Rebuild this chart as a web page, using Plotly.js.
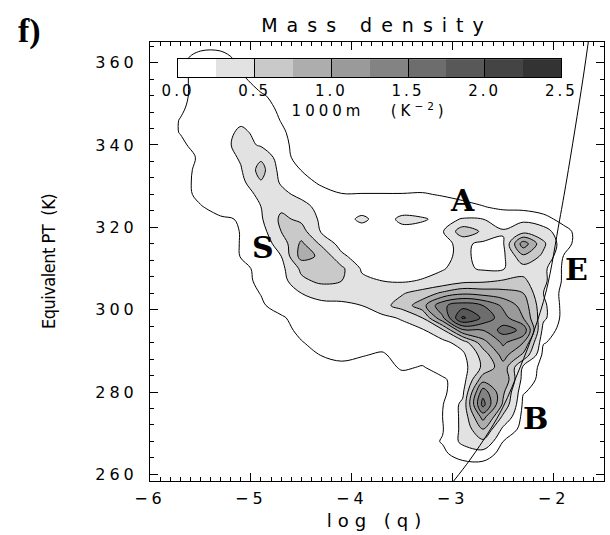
<!DOCTYPE html>
<html><head><meta charset="utf-8">
<script src="https://cdn.plot.ly/plotly-3.0.1.min.js"></script>
<style>
body{margin:0;background:#fff}
#chart{width:610px;height:535px}
.xtick text,.ytick text{letter-spacing:4px}
.x2tick text{letter-spacing:3px}
.gtitle{letter-spacing:9px}
.xtitle{letter-spacing:6px}
.x2title{letter-spacing:4px}
.ytitle{letter-spacing:-0.5px}
</style>
</head><body><div id="chart"></div>
<script>
// grid of log(q) (columns) and equivalent potential temperature (rows, top to bottom)
const logQ = [-5.9,-5.7,-5.5,-5.3,-5.1,-4.9,-4.7,-4.5,-4.3,-4.1,-3.9,-3.7,-3.5,-3.3,-3.1,-2.9,-2.7,-2.5,-2.3,-2.1,-1.9,-1.7,-1.5];
const thetaE = [364,361,358,355,352,349,346,343,340,337,334,331,328,325,322,319,316,313,310,307,304,301,298,295,292,289,286,283,280,277,274,271,268,265,262,259];
// mass density (1000 m K^-2), rows follow thetaE
const massDensity = [
[0,0,0,0,0,0,0,0,0,0,0,0,0,0,0,0,0,0,0,0,0,0,0],
[0,0,.15,.15,0,0,0,0,0,0,0,0,0,0,0,0,0,0,0,0,0,0,0],
[0,0,.15,.15,.05,0,0,0,0,0,0,0,0,0,0,0,0,0,0,0,0,0,0],
[0,.02,.12,.12,.12,0,0,0,0,0,0,0,0,0,0,0,0,0,0,0,0,0,0],
[0,.02,.12,.12,.12,.08,0,0,0,0,0,0,0,0,0,0,0,0,0,0,0,0,0],
[0,.04,.12,.12,.14,.12,.03,0,0,0,0,0,0,0,0,0,0,0,0,0,0,0,0],
[0,.065,.12,.13,.2,.13,.055,0,0,0,0,0,0,0,0,0,0,0,0,0,0,0,0],
[0,.065,.12,.14,.3,.18,.08,0,0,0,0,0,0,0,0,0,0,0,0,0,0,0,0],
[0,.03,.12,.14,.35,.22,.1,0,0,0,0,0,0,0,0,0,0,0,0,0,0,0,0],
[0,0,.08,.12,.28,.45,.12,0,0,0,0,0,0,0,0,0,0,0,0,0,0,0,0],
[0,0,.1,.12,.23,.6,.15,.055,0,0,0,0,0,0,0,0,0,0,0,0,0,0,0],
[0,0,.11,.12,.18,.48,.22,.12,.03,0,0,0,0,0,0,0,0,0,0,0,0,0,0],
[0,0,.1,.12,.15,.3,.32,.18,.12,.065,.065,.065,.065,.07,.05,.02,0,0,0,0,0,0,0],
[0,0,.05,.12,.13,.25,.45,.35,.15,.12,.13,.12,.13,.13,.12,.1,.065,.03,0,0,0,0,0],
[0,0,0,.04,.07,.22,.55,.45,.2,.15,.3,.15,.3,.27,.2,.26,.25,.15,.2,.1,.02,0,0],
[0,0,0,0,.065,.15,.5,.6,.22,.12,.14,.12,.18,.18,.23,.65,.46,.27,.4,.35,.1,0,0],
[0,0,0,0,.065,.12,.35,.8,.45,.15,.12,.12,.12,.12,.2,.3,.2,.22,1.15,.55,.1,0,0],
[0,0,0,0,.065,.08,.25,.85,.7,.3,.12,.12,.12,.12,.2,.3,.18,.2,.7,.45,.055,0,0],
[0,0,0,0,.02,.1,.18,.55,.75,.55,.22,.12,.12,.15,.24,.3,.22,.23,.4,.3,.03,0,0],
[0,0,0,0,0,.1,.15,.45,.55,.5,.3,.25,.22,.27,.3,.42,.45,.52,.55,.3,.03,0,0],
[0,0,0,0,0,.065,.12,.25,.35,.35,.32,.4,.48,.6,.8,.95,.9,.85,.75,.25,0,0,0],
[0,0,0,0,0,.04,.12,.15,.18,.2,.25,.42,.6,.9,1.45,1.65,1.5,1.2,.9,.3,0,0,0],
[0,0,0,0,0,0,.04,.12,.12,.12,.14,.18,.28,.5,1.2,2.05,1.7,1.35,1.0,.3,0,0,0],
[0,0,0,0,0,0,0,.1,.12,.12,.12,.12,.14,.22,.45,1.2,1.25,1.6,1.45,.15,0,0,0],
[0,0,0,0,0,0,0,.05,.12,.12,.12,.12,.12,.12,.18,.35,.9,1.3,1.0,.07,0,0,0],
[0,0,0,0,0,0,0,0,.065,.12,.07,.04,.12,.12,.12,.2,.6,1.1,.7,0,0,0,0],
[0,0,0,0,0,0,0,0,0,0,0,0,.08,.05,.12,.15,.55,.9,.2,0,0,0,0],
[0,0,0,0,0,0,0,0,0,0,0,0,0,0,.04,.13,.9,1.0,.15,0,0,0,0],
[0,0,0,0,0,0,0,0,0,0,0,0,0,0,.02,.2,1.4,.8,.07,0,0,0,0],
[0,0,0,0,0,0,0,0,0,0,0,0,0,0,.05,.3,1.6,.7,.02,0,0,0,0],
[0,0,0,0,0,0,0,0,0,0,0,0,0,0,.06,.3,1.1,.45,0,0,0,0,0],
[0,0,0,0,0,0,0,0,0,0,0,0,0,0,.05,.3,.75,.2,0,0,0,0,0],
[0,0,0,0,0,0,0,0,0,0,0,0,0,0,.07,.3,.45,.06,0,0,0,0,0],
[0,0,0,0,0,0,0,0,0,0,0,0,0,0,.03,.13,.15,0,0,0,0,0,0],
[0,0,0,0,0,0,0,0,0,0,0,0,0,0,0,0,0,0,0,0,0,0,0],
[0,0,0,0,0,0,0,0,0,0,0,0,0,0,0,0,0,0,0,0,0,0,0]
];
// contour levels and grey shades of the bands
const levels = [0.25,0.5,0.75,1.0,1.25,1.5,1.75,2.0,2.25,2.5];
const bandGreys = ['#ffffff','#e2e2e2','#c9c9c9','#adadad','#9a9a9a','#838383','#6d6d6d','#585858','#444444','#333333','#262626'];
const outlineLevel = 0.06;
// saturation curve
const curveLogQ = [-2.99,-2.83,-2.63,-2.50,-2.33,-2.20,-2.07,-1.94,-1.87,-1.71,-1.65];
const curveTheta = [258.4,263.5,270.8,276.4,286.1,294.4,304.8,321.8,331.5,355.8,366];
// ticks
const xTickVals = [-6,-5,-4,-3,-2];
const xTickText = ['\u22126','\u22125','\u22124','\u22123','\u22122'];
const yTickVals = [260,280,300,320,340,360];
const yTickText = ['260','280','300','320','340','360'];
const cbTickVals = [0,0.5,1.0,1.5,2.0,2.5];
const cbTickText = ['0.0','0.5','1.0','1.5','2.0','2.5'];
// region labels
const regionNames = ['A','S','E','B'];
const regionLogQ = [-2.90,-4.88,-1.77,-2.18];
const regionTheta = [326.4,315.2,309.7,273.5];

const yAsc = thetaE.slice().reverse();
const zAsc = massDensity.slice().reverse();
const nc = levels.length;
const scale = bandGreys.map((c,i)=>[i/nc,c]);

const cbEdges = [0].concat(levels);
const cbScale = bandGreys.slice(0,nc).map((c,i)=>[i/(nc-1),c]);

const traces = [
 {type:'contour', x:logQ, y:yAsc, z:zAsc, autocontour:false,
  contours:{start:levels[0], end:levels[levels.length-1], size:0.25, coloring:'fill', showlines:true},
  colorscale:scale, showscale:false, line:{color:'#000', width:1, smoothing:1}, hoverinfo:'skip'},
 {type:'contour', x:logQ, y:yAsc, z:zAsc, autocontour:false,
  contours:{start:outlineLevel, end:outlineLevel, size:1, coloring:'none'},
  showscale:false, line:{color:'#000', width:1, smoothing:1}, hoverinfo:'skip'},
 {type:'scatter', mode:'lines', x:curveLogQ, y:curveTheta, line:{color:'#000', width:1, shape:'spline'}, hoverinfo:'skip'},
 {type:'heatmap', x:cbEdges, y:[0,1], z:[levels.map((_,i)=>i)], xaxis:'x2', yaxis:'y2',
  colorscale:cbScale, zmin:0, zmax:nc-1, showscale:false, hoverinfo:'skip'}
];

const tickFont = {family:'DejaVu Sans', size:16, color:'#000'};
const annotations = regionNames.map((t,i)=>({x:regionLogQ[i], y:regionTheta[i], xref:'x', yref:'y', text:t, showarrow:false,
  font:{family:'DejaVu Serif, Liberation Serif, serif', size:30, color:'#000', weight:'bold'}}));
annotations.push({x:-0.295, y:1.073, xref:'paper', yref:'paper', text:'f)', showarrow:false,
  font:{family:'Liberation Serif, Times New Roman, serif', size:34, color:'#000', weight:'bold'}});

const layout = {
 width:610, height:535, autosize:false,
 margin:{l:150, r:6, t:42, b:54},
 paper_bgcolor:'#fff', plot_bgcolor:'rgba(0,0,0,0)', showlegend:false,
 title:{text:'Mass density', x:0.5, xref:'paper', y:1-25/535, yref:'container', yanchor:'middle',
   font:{family:'DejaVu Sans', size:19, color:'#000'}},
 xaxis:{range:[-6,-1.5], tickmode:'array', tickvals:xTickVals, ticktext:xTickText, ticks:'inside', ticklen:8, tickwidth:1, tickcolor:'#000',
   minor:{tickmode:'linear', tick0:-6, dtick:0.1, ticks:'inside', ticklen:4, tickcolor:'#000'},
   showline:true, linecolor:'#000', linewidth:1, mirror:'allticks', showgrid:false, zeroline:false,
   tickfont:tickFont, ticklabelstandoff:3,
   title:{text:'log (q)', font:{family:'DejaVu Sans', size:18, color:'#000'}, standoff:7}},
 yaxis:{range:[258.4,365], tickmode:'array', tickvals:yTickVals, ticktext:yTickText, ticks:'inside', ticklen:8, tickwidth:1, tickcolor:'#000',
   minor:{tickmode:'linear', tick0:260, dtick:4, ticks:'inside', ticklen:4, tickcolor:'#000'},
   showline:true, linecolor:'#000', linewidth:1, mirror:'allticks', showgrid:false, zeroline:false,
   tickfont:tickFont, ticklabelstandoff:8,
   title:{text:'Equivalent PT  (K)', font:{family:'Liberation Sans Narrow, DejaVu Sans Condensed, Liberation Sans, sans-serif', size:18, color:'#000'}, standoff:34}},
 xaxis2:{domain:[0.0617,0.906], range:[0,2.5], anchor:'y2', tickmode:'array', tickvals:cbTickVals, ticktext:cbTickText,
   ticks:'inside', ticklen:18, tickwidth:1, tickcolor:'#000', showline:true, mirror:true, linecolor:'#000', linewidth:1,
   showgrid:false, zeroline:false, tickfont:{family:'DejaVu Sans', size:15, color:'#000'}, ticklabelstandoff:0,
   title:{text:'1000m   (K<sup>\u22122</sup>)', font:{family:'DejaVu Sans', size:15, color:'#000'}, standoff:0}},
 yaxis2:{domain:[0.920,0.961], range:[0,1], anchor:'x2', showticklabels:false, ticks:'', showline:true, mirror:true, linecolor:'#000', linewidth:1, showgrid:false, zeroline:false},
 annotations:annotations
};
Plotly.newPlot('chart', traces, layout, {staticPlot:true, displayModeBar:false});
</script>
</body></html>
